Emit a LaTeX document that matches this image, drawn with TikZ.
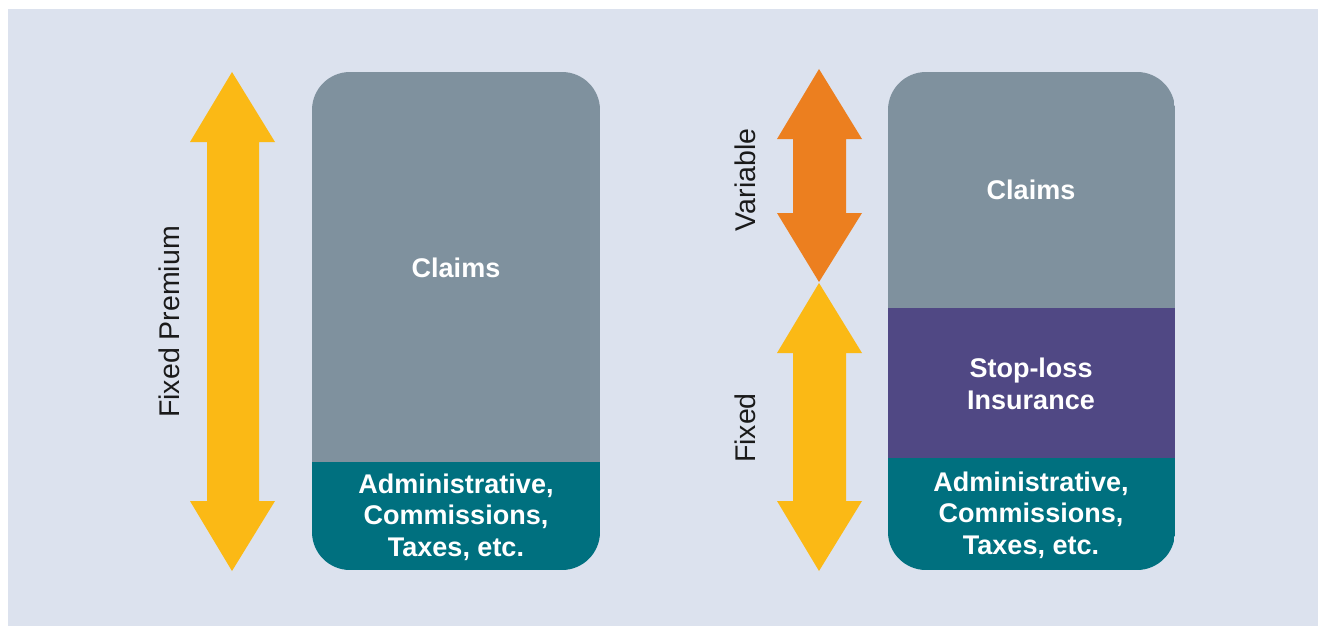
\documentclass[tikz,border=0pt]{standalone}
\usepackage{fontspec}
\setmainfont{Liberation Sans}
\definecolor{bgc}{HTML}{DCE2EE}
\definecolor{claimc}{HTML}{7F919E}
\definecolor{tealc}{HTML}{00707F}
\definecolor{purplec}{HTML}{504884}
\definecolor{yellowc}{HTML}{FBB915}
\definecolor{orangec}{HTML}{EC7F1F}
\definecolor{labc}{HTML}{1A1A1A}
\tikzset{
  boxtext/.style={text=white, align=center, inner sep=0pt, font=\bfseries\fontsize{27}{31.5}\selectfont},
  sidelabel/.style={text=labc, rotate=90, inner sep=0pt, font=\fontsize{28.5}{32}\selectfont},
}
\begin{document}
\begin{tikzpicture}[x=1pt,y=-1pt]
\useasboundingbox (0,0) rectangle (1318,626);
\fill[bgc] (8,9) rectangle (1318,626);
% left stack
\begin{scope}
\clip[rounded corners=38pt] (312,72) rectangle (600,570);
\fill[claimc] (312,72) rectangle (600,462);
\fill[tealc] (312,462) rectangle (600,570);
\end{scope}
% right stack
\begin{scope}
\clip[rounded corners=38pt] (888,72) rectangle (1175,570);
\fill[claimc] (888,72) rectangle (1175,308);
\fill[purplec] (888,308) rectangle (1175,458);
\fill[tealc] (888,458) rectangle (1175,570);
\end{scope}
% arrows
\fill[yellowc] (232,72) -- (275,142) -- (259,142) -- (259,501) -- (275,501) -- (232,571)
  -- (190,501) -- (207,501) -- (207,142) -- (190,142) -- cycle;
\fill[orangec] (819,69) -- (862,139) -- (846,139) -- (846,213) -- (862,213) -- (819,282)
  -- (777,213) -- (793,213) -- (793,139) -- (777,139) -- cycle;
\fill[yellowc] (819,283) -- (862,353) -- (846,353) -- (846,501) -- (862,501) -- (819,571)
  -- (777,501) -- (793,501) -- (793,353) -- (777,353) -- cycle;
% texts
\node[boxtext] (claimsL) at (456,268) {Claims};
\node[boxtext] (adminL) at (456,517) {Administrative,\\Commissions,\\Taxes, etc.};
\node[boxtext] (claimsR) at (1031,190) {Claims};
\node[boxtext] (stoploss) at (1031,384) {Stop-loss\\Insurance};
\node[boxtext] (adminR) at (1031,515) {Administrative,\\Commissions,\\Taxes, etc.};
\node[sidelabel] (fixedprem) at (169,322) {Fixed Premium};
\node[sidelabel] (variable) at (745,180) {Variable};
\node[sidelabel] (fixed) at (745,428) {Fixed};
\end{tikzpicture}
\end{document}
